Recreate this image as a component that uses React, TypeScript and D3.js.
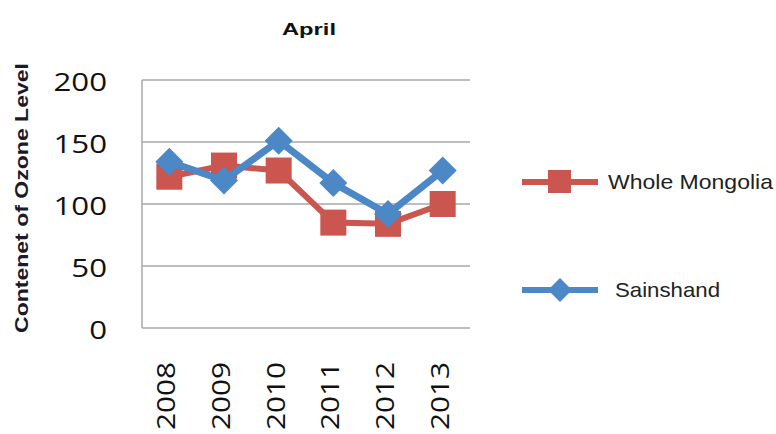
import React from "react";
import * as d3 from "d3";

const years = ["2008", "2009", "2010", "2011", "2012", "2013"];
const wholeMongolia = [122, 131, 127, 85, 84, 100];
const sainshand = [134, 119, 151, 117, 92, 127];
const yTicks = [0, 50, 100, 150, 200];
const seriesNames = ["Whole Mongolia", "Sainshand"];

const W = 776;
const H = 434;
const plot = { left: 142, right: 470, top: 80, bottom: 328 };
const RED = "#CB554F";
const BLUE = "#4C88C6";
const FONT = "'Open Sans', 'Liberation Sans', Arial, sans-serif";

export default function App() {
  const x = d3.scaleBand<string>().domain(years).range([plot.left, plot.right]);
  const y = d3.scaleLinear().domain([0, 200]).range([plot.bottom, plot.top]);
  const cx = (d: string) => (x(d) as number) + x.bandwidth() / 2;

  const line = d3
    .line<number>()
    .x((_, i) => cx(years[i]))
    .y((v) => y(v));

  const sq = 26;
  const dia = 14;
  const diamondPath = (px: number, py: number, r: number) =>
    `M${px},${py - r}L${px + r},${py}L${px},${py + r}L${px - r},${py}Z`;

  return (
    <svg
      width={W}
      height={H}
      style={{ position: "absolute", left: 0, top: 0, background: "#fff" }}
    >
      {/* title */}
      <text
        x={309}
        y={35}
        textAnchor="middle"
        fontFamily="'Liberation Sans', Arial, sans-serif"
        fontWeight="bold"
        fontSize={17}
        textLength={54}
        lengthAdjust="spacingAndGlyphs"
        fill="#111"
      >
        April
      </text>

      {/* y axis title */}
      <text
        transform={`translate(28,198) rotate(-90)`}
        textAnchor="middle"
        fontFamily="'Liberation Sans', Arial, sans-serif"
        fontWeight="bold"
        fontSize={18}
        textLength={270}
        lengthAdjust="spacingAndGlyphs"
        fill="#1a1a2a"
      >
        Contenet of Ozone Level
      </text>

      {/* gridlines */}
      {yTicks.map((t) => (
        <line
          key={t}
          x1={plot.left}
          x2={plot.right}
          y1={y(t)}
          y2={y(t)}
          stroke="#A8A8A8"
          strokeWidth={1.5}
        />
      ))}
      <line
        x1={plot.left}
        x2={plot.left}
        y1={plot.top}
        y2={plot.bottom}
        stroke="#A8A8A8"
        strokeWidth={1.5}
      />

      {/* y tick labels */}
      {yTicks.map((t) => (
        <text
          key={t}
          transform={`translate(107,${y(t) + 11}) scale(1.25,1)`}
          textAnchor="end"
          fontFamily={FONT}
          fontSize={25}
          fill="#111"
        >
          {t}
        </text>
      ))}

      {/* x tick labels */}
      {years.map((yr) => (
        <text
          key={yr}
          transform={`translate(${cx(yr) + 6},362) rotate(-90) scale(1.19,1)`}
          textAnchor="end"
          fontFamily={FONT}
          fontSize={25}
          fill="#111"
        >
          {yr}
        </text>
      ))}

      {/* red series */}
      <path
        d={line(wholeMongolia) || ""}
        fill="none"
        stroke={RED}
        strokeWidth={6}
        strokeLinejoin="round"
      />
      {wholeMongolia.map((v, i) => (
        <rect
          key={i}
          x={cx(years[i]) - sq / 2}
          y={y(v) - sq / 2}
          width={sq}
          height={sq}
          fill={RED}
        />
      ))}

      {/* blue series */}
      <path
        d={line(sainshand) || ""}
        fill="none"
        stroke={BLUE}
        strokeWidth={7}
        strokeLinejoin="round"
      />
      {sainshand.map((v, i) => (
        <path key={i} d={diamondPath(cx(years[i]), y(v), dia)} fill={BLUE} />
      ))}

      {/* legend */}
      <line x1={522} x2={598} y1={182} y2={182} stroke={RED} strokeWidth={6} />
      <rect x={548} y={170} width={23} height={23} fill={RED} />
      <text
        x={608}
        y={189}
        fontFamily="'Liberation Sans', Arial, sans-serif"
        fontSize={21}
        textLength={165}
        lengthAdjust="spacingAndGlyphs"
        fill="#222"
      >
        {seriesNames[0]}
      </text>

      <line x1={522} x2={598} y1={290} y2={290} stroke={BLUE} strokeWidth={6} />
      <path d={diamondPath(560, 290, 12)} fill={BLUE} />
      <text
        x={615}
        y={297}
        fontFamily="'Liberation Sans', Arial, sans-serif"
        fontSize={21}
        textLength={105}
        lengthAdjust="spacingAndGlyphs"
        fill="#222"
      >
        {seriesNames[1]}
      </text>
    </svg>
  );
}
